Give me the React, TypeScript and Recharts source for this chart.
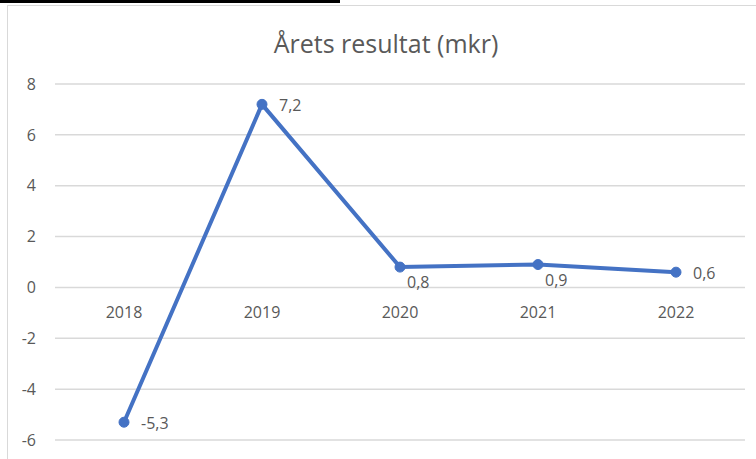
import React from 'react';
import { LineChart, Line, XAxis, YAxis, CartesianGrid, LabelList } from 'recharts';

const years = ['2018', '2019', '2020', '2021', '2022'];
const results = [-5.3, 7.2, 0.8, 0.9, 0.6];
const yTicks = [-6, -4, -2, 0, 2, 4, 6, 8];
const chartTitle = 'Årets resultat (mkr)';
const labelPlacement = ['right', 'right', 'below', 'below', 'right'];

const data = years.map((y, i) => ({ year: y, value: results[i], axisZero: 0 }));

const FONT = "'Open Sans', 'Noto Sans', sans-serif";
const TEXT = '#595959';
const BLUE = '#4472C4';

const fmt = (v: number) => v.toFixed(1).replace('.', ',');

const ValueLabel = (props: any) => {
  const { x, y, value, index } = props;
  const place = labelPlacement[index];
  if (place === 'below') {
    return (
      <text x={x + 7} y={y + 15} fill={TEXT} fontSize={16} fontFamily={FONT} textAnchor="start" dominantBaseline="central">
        {fmt(Number(value))}
      </text>
    );
  }
  return (
    <text x={x + 17} y={y + 1} fill={TEXT} fontSize={16} fontFamily={FONT} textAnchor="start" dominantBaseline="central">
      {fmt(Number(value))}
    </text>
  );
};

const YearLabel = (props: any) => {
  const { x, y, value } = props;
  return (
    <text x={x} y={y + 25} fill={TEXT} fontSize={16} fontFamily={FONT} textAnchor="middle" dominantBaseline="central">
      {value}
    </text>
  );
};

export default function App() {
  return (
    <div style={{ position: 'absolute', left: 0, top: 0, width: 756, height: 459, overflow: 'hidden', background: '#fff', fontFamily: FONT }}>
      <div style={{ position: 'absolute', left: 0, top: 0, width: 340, height: 2.5, background: '#000' }} />
      <div style={{ position: 'absolute', left: 28, top: -4, width: 10, height: 7, borderRadius: 5, background: '#000' }} />
      <div style={{ position: 'absolute', left: 7, top: 5, width: 760, height: 470, border: '1px solid #d9d9d9', boxSizing: 'border-box' }} />
      <div style={{ position: 'absolute', left: 0, top: 27, width: 772, textAlign: 'center', fontSize: 25, color: TEXT, fontFamily: FONT, lineHeight: '32px' }}>
        {chartTitle}
      </div>
      <div style={{ position: 'absolute', left: 0, top: 0 }}>
        <LineChart width={756} height={459} data={data} margin={{ top: 84, right: 11, bottom: 19, left: 0 }}>
          <CartesianGrid vertical={false} stroke="#d9d9d9" strokeWidth={1.5} />
          <XAxis dataKey="year" scale="band" hide />
          <YAxis
            domain={[-6, 8]}
            ticks={yTicks}
            width={55}
            axisLine={false}
            tickLine={false}
            tickSize={0}
            tickMargin={19}
            interval={0}
            tick={{ fill: TEXT, fontSize: 16, fontFamily: FONT }}
          />
          <Line dataKey="axisZero" stroke="none" strokeOpacity={0} dot={false} activeDot={false} isAnimationActive={false} legendType="none">
            <LabelList dataKey="year" content={YearLabel} />
          </Line>
          <Line
            dataKey="value"
            stroke={BLUE}
            strokeWidth={4}
            dot={{ r: 5, fill: BLUE, stroke: BLUE, strokeWidth: 1 }}
            activeDot={false}
            isAnimationActive={false}
          >
            <LabelList dataKey="value" content={ValueLabel} />
          </Line>
        </LineChart>
      </div>
    </div>
  );
}
